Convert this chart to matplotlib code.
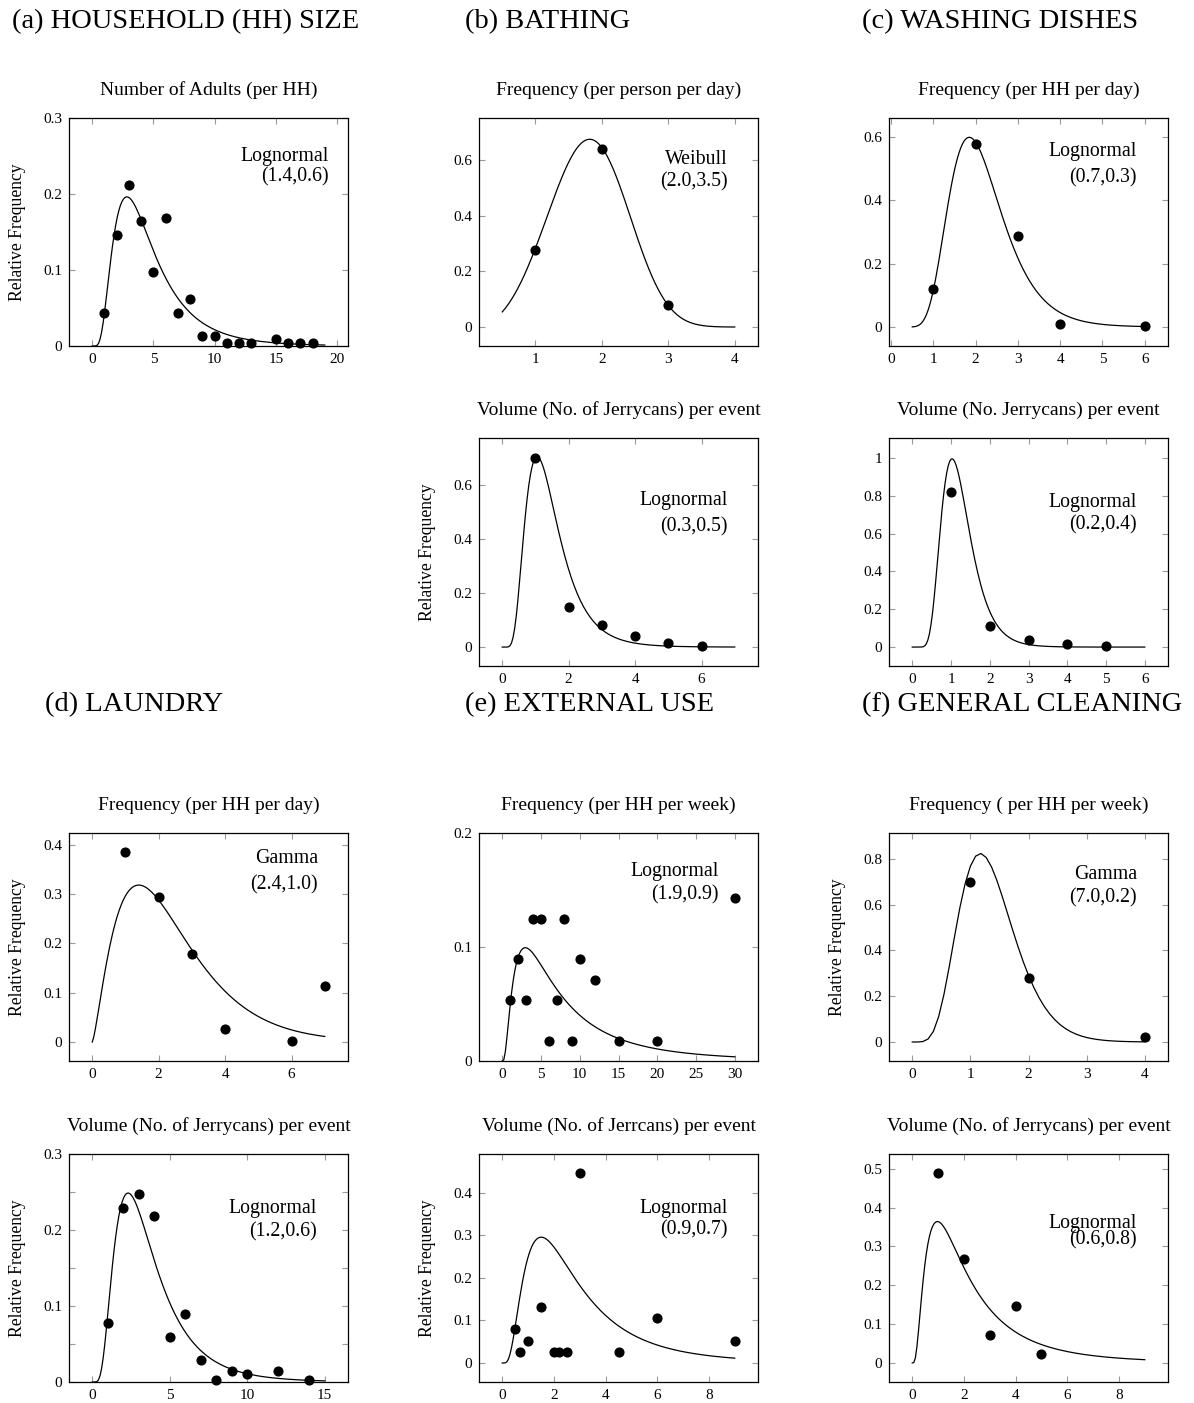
import math
import numpy as np
import matplotlib
matplotlib.use('Agg')
import matplotlib.pyplot as plt

plt.rcParams['font.family'] = ['Liberation Serif', 'DejaVu Serif']

# ---- data ----
# (a) household size
hh_x = [1, 2, 3, 4, 5, 6, 7, 8, 9, 10, 11, 12, 13, 15, 16, 17, 18]
hh_y = [0.044, 0.146, 0.212, 0.164, 0.097, 0.168, 0.044, 0.062, 0.013, 0.013,
        0.004, 0.004, 0.004, 0.009, 0.004, 0.004, 0.004]

# (b) bathing
bath_freq_x = [1, 2, 3]
bath_freq_y = [0.278, 0.640, 0.078]
bath_vol_x = [1, 2, 3, 4, 5, 6]
bath_vol_y = [0.701, 0.149, 0.083, 0.041, 0.015, 0.003]

# (c) washing dishes
dish_freq_x = [1, 2, 3, 4, 6]
dish_freq_y = [0.121, 0.577, 0.288, 0.011, 0.003]
dish_vol_x = [1, 2, 3, 4, 5]
dish_vol_y = [0.820, 0.113, 0.039, 0.016, 0.005]

# (d) laundry
laun_freq_x = [1, 2, 3, 4, 6, 7]
laun_freq_y = [0.384, 0.293, 0.179, 0.026, 0.003, 0.113]
laun_vol_x = [1, 2, 3, 4, 5, 6, 7, 8, 9, 10, 12, 14]
laun_vol_y = [0.077, 0.229, 0.248, 0.218, 0.059, 0.089, 0.029, 0.003, 0.0145,
              0.011, 0.0145, 0.003]

# (e) external use
ext_freq_x = [1, 2, 3, 4, 5, 6, 7, 8, 9, 10, 12, 15, 20, 30]
ext_freq_y = [0.0536, 0.0893, 0.0536, 0.125, 0.125, 0.0179, 0.0536, 0.125,
              0.0179, 0.0893, 0.0714, 0.0179, 0.0179, 0.1429]
ext_vol_x = [0.5, 0.7, 1.0, 1.5, 2.0, 2.2, 2.5, 3.0, 4.5, 6, 9]
ext_vol_y = [0.079, 0.0263, 0.0526, 0.1316, 0.0263, 0.0263, 0.0263, 0.447,
             0.0263, 0.105, 0.0526]

# (f) general cleaning
clean_freq_x = [1, 2, 4]
clean_freq_y = [0.697, 0.279, 0.023]
clean_vol_x = [1, 2, 3, 4, 5]
clean_vol_y = [0.488, 0.268, 0.073, 0.146, 0.024]

# fitted distributions (type, p1, p2) and their labels
hh_fit = ('lognormal', 1.4, 0.6)
bath_freq_fit = ('weibull', 2.0, 3.5)
bath_vol_fit = ('lognormal', 0.28, 0.48)
dish_freq_fit = ('lognormal', 0.73, 0.34)
dish_vol_fit = ('lognormal', 0.16, 0.365)
laun_freq_fit = ('gamma', 2.4, 1.0)
laun_vol_fit = ('lognormal', 1.18, 0.585)
ext_freq_fit = ('lognormal', 1.9, 0.9)
ext_vol_fit = ('lognormal', 0.9, 0.7)
clean_freq_fit = ('gamma', 7.0, 0.195)
clean_vol_fit = ('lognormal', 0.63, 0.81)

fit_labels = {
    'hh': ('Lognormal', '(1.4,0.6)'),
    'bath_freq': ('Weibull', '(2.0,3.5)'),
    'bath_vol': ('Lognormal', '(0.3,0.5)'),
    'dish_freq': ('Lognormal', '(0.7,0.3)'),
    'dish_vol': ('Lognormal', '(0.2,0.4)'),
    'laun_freq': ('Gamma', '(2.4,1.0)'),
    'laun_vol': ('Lognormal', '(1.2,0.6)'),
    'ext_freq': ('Lognormal', '(1.9,0.9)'),
    'ext_vol': ('Lognormal', '(0.9,0.7)'),
    'clean_freq': ('Gamma', '(7.0,0.2)'),
    'clean_vol': ('Lognormal', '(0.6,0.8)'),
}

section_titles = ['(a) HOUSEHOLD (HH) SIZE', '(b) BATHING', '(c) WASHING DISHES',
                  '(d) LAUNDRY', '(e) EXTERNAL USE', '(f) GENERAL CLEANING']


def pdf(fit, x):
    kind, a, b = fit
    if kind == 'lognormal':
        out = np.zeros_like(x)
        m = x > 0
        out[m] = np.exp(-(np.log(x[m]) - a) ** 2 / (2 * b * b)) / (x[m] * b * np.sqrt(2 * np.pi))
        return out
    if kind == 'weibull':
        return (b / a) * (x / a) ** (b - 1) * np.exp(-(x / a) ** b)
    return x ** (a - 1) * np.exp(-x / b) / (math.gamma(a) * b ** a)


W, H = 1194, 1403
fig = plt.figure(figsize=(W / 100, H / 100), dpi=100)

# section headers (x px, y px)
header_pos = [(12, 22), (465, 22), (862, 22), (45, 705), (465, 705), (862, 705)]
for t, (hx, hy) in zip(section_titles, header_pos):
    fig.text(hx / W, 1 - hy / H, t, fontsize=20.5, ha='left', va='center')

lefts = [69, 479, 889]
tops = [118, 438, 833, 1154]
aw, ah = 279, 228

panels = [
    # key, x, y, fit, domain, col, row, title, xlim, ylim, xticks, yticks, ylabel, text pos
    ('hh', hh_x, hh_y, hh_fit, (0, 19), 0, 0, 'Number of Adults (per HH)',
     (-1.9, 20.9), (0, 0.3), [0, 5, 10, 15, 20], [0, 0.1, 0.2, 0.3], True, (0.932, 0.829, 0.741)),
    ('bath_freq', bath_freq_x, bath_freq_y, bath_freq_fit, (0.5, 4), 1, 0, 'Frequency (per person per day)',
     (0.15, 4.35), (-0.068, 0.75), [1, 2, 3, 4], [0, 0.2, 0.4, 0.6], False, (0.892, 0.816, 0.719)),
    ('dish_freq', dish_freq_x, dish_freq_y, dish_freq_fit, (0.5, 6), 2, 0, 'Frequency (per HH per day)',
     (-0.05, 6.55), (-0.06, 0.66), [0, 1, 2, 3, 4, 5, 6], [0, 0.2, 0.4, 0.6], False, (0.889, 0.851, 0.737)),
    ('bath_vol', bath_vol_x, bath_vol_y, bath_vol_fit, (0, 7), 1, 1, 'Volume (No. of Jerrycans) per event',
     (-0.7, 7.7), (-0.07, 0.774), [0, 2, 4, 6], [0, 0.2, 0.4, 0.6], True, (0.892, 0.724, 0.610)),
    ('dish_vol', dish_vol_x, dish_vol_y, dish_vol_fit, (0, 6), 2, 1, 'Volume (No. Jerrycans) per event',
     (-0.6, 6.6), (-0.1, 1.105), [0, 1, 2, 3, 4, 5, 6], [0, 0.2, 0.4, 0.6, 0.8, 1], False, (0.889, 0.715, 0.618)),
    ('laun_freq', laun_freq_x, laun_freq_y, laun_freq_fit, (0, 7), 0, 2, 'Frequency (per HH per day)',
     (-0.7, 7.7), (-0.0385, 0.4235), [0, 2, 4, 6], [0, 0.1, 0.2, 0.3, 0.4], True, (0.892, 0.886, 0.772)),
    ('ext_freq', ext_freq_x, ext_freq_y, ext_freq_fit, (0, 30), 1, 2, 'Frequency (per HH per week)',
     (-3, 33), (0, 0.2), [0, 5, 10, 15, 20, 25, 30], [0, 0.1, 0.2], False, (0.860, 0.833, 0.728)),
    ('clean_freq', clean_freq_x, clean_freq_y, clean_freq_fit, (0, 4), 2, 2, 'Frequency ( per HH per week)',
     (-0.4, 4.4), (-0.083, 0.913), [0, 1, 2, 3, 4], [0, 0.2, 0.4, 0.6, 0.8], True, (0.889, 0.816, 0.715)),
    ('laun_vol', laun_vol_x, laun_vol_y, laun_vol_fit, (0, 15), 0, 3, 'Volume (No. of Jerrycans) per event',
     (-1.5, 16.5), (0, 0.3), [0, 5, 10, 15], [0, 0.1, 0.2, 0.3], True, (0.889, 0.763, 0.658)),
    ('ext_vol', ext_vol_x, ext_vol_y, ext_vol_fit, (0, 9), 1, 3, 'Volume (No. of Jerrcans) per event',
     (-0.9, 9.9), (-0.0447, 0.4917), [0, 2, 4, 6, 8], [0, 0.1, 0.2, 0.3, 0.4], True, (0.892, 0.763, 0.667)),
    ('clean_vol', clean_vol_x, clean_vol_y, clean_vol_fit, (0, 9), 2, 3, 'Volume (No. of Jerrycans) per event',
     (-0.9, 9.9), (-0.049, 0.538), [0, 2, 4, 6, 8], [0, 0.1, 0.2, 0.3, 0.4, 0.5], False, (0.889, 0.697, 0.623)),
]

for key, px, py, fit, dom, col, row, title, xlim, ylim, xt, yt, ylab, tpos in panels:
    ax = fig.add_axes([lefts[col] / W, 1 - (tops[row] + ah) / H, aw / W, ah / H])
    nsamp = 45 if key == 'clean_freq' else 150
    xs = np.linspace(dom[0], dom[1], nsamp)
    ax.plot(xs, pdf(fit, xs), color='black', lw=0.9)
    ax.plot(px, py, 'o', color='black', ms=6.3, clip_on=False, zorder=3)
    ax.set_xlim(*xlim)
    ax.set_ylim(*ylim)
    ax.set_xticks(xt)
    ax.set_yticks(yt)
    ax.set_yticklabels(['%g' % v for v in yt])
    if key == 'laun_vol':
        ax.set_yticks([0.05, 0.15, 0.25], minor=True)
    ax.tick_params(which='both', direction='in', top=True, right=True, length=4.5,
                   width=0.8, color='0.6', labelsize=11, pad=5)
    for sp in ax.spines.values():
        sp.set_linewidth(0.9)
    ax.text(0.5, 1 + 28 / ah, title, transform=ax.transAxes, ha='center', va='center', fontsize=14)
    if ylab:
        ax.set_ylabel('Relative Frequency', fontsize=12.7, va='center')
        ax.yaxis.set_label_coords(-51 / aw, 0.5)
    l1, l2 = fit_labels[key]
    ax.text(tpos[0], tpos[1], l1, transform=ax.transAxes, ha='right', va='center', fontsize=14.3)
    ax.text(tpos[0], tpos[2], l2, transform=ax.transAxes, ha='right', va='center', fontsize=14.3)

fig.savefig('out.png', dpi=100)
